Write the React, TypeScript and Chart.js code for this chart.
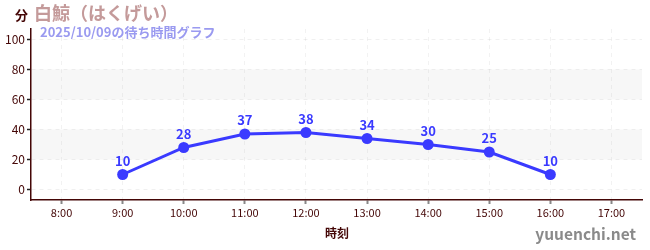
import React, { useEffect, useRef } from "react";
import { Chart, registerables } from "chart.js";

Chart.register(...registerables);

const categories = ["8:00", "9:00", "10:00", "11:00", "12:00", "13:00", "14:00", "15:00", "16:00", "17:00"];
const waitTimes: (number | null)[] = [null, 10, 28, 37, 38, 34, 30, 25, 10, null];
const bands: [number, number][] = [[20, 40], [60, 80]];
const titleUnit = "分";
const titleMain = "白鯨（はくげい）";
const subtitle = "2025/10/09の待ち時間グラフ";
const xTitle = "時刻";
const watermark = "yuuenchi.net";

const FONT = "'Noto Sans CJK JP', 'Noto Sans', sans-serif";
const MAROON = "#440606";
const BLUE = "#3a3aff";

export default function App() {
  const ref = useRef<HTMLCanvasElement | null>(null);
  useEffect(() => {
    if (!ref.current) return;
    const bandPlugin = {
      id: "bands",
      beforeDatasetsDraw(chart: any) {
        const { ctx, chartArea, scales } = chart;
        ctx.save();
        ctx.fillStyle = "rgba(0,0,0,0.03)";
        for (const [a, b] of bands) {
          const y1 = scales.y.getPixelForValue(b);
          const y2 = scales.y.getPixelForValue(a);
          ctx.fillRect(chartArea.left, y1, chartArea.right - chartArea.left, y2 - y1);
        }
        ctx.restore();
      },
    };
    const textPlugin = {
      id: "texts",
      afterDatasetsDraw(chart: any) {
        const { ctx } = chart;
        const meta = chart.getDatasetMeta(0);
        ctx.save();
        ctx.font = `bold 13px ${FONT}`;
        ctx.fillStyle = BLUE;
        ctx.textAlign = "center";
        ctx.textBaseline = "bottom";
        meta.data.forEach((pt: any, i: number) => {
          const v = waitTimes[i];
          if (v == null) return;
          ctx.fillText(String(v), pt.x, pt.y - 7);
        });
        ctx.restore();
      },
      afterDraw(chart: any) {
        const { ctx } = chart;
        ctx.save();
        ctx.textBaseline = "middle";
        ctx.textAlign = "left";
        ctx.font = `bold 13px ${FONT}`;
        ctx.fillStyle = MAROON;
        ctx.fillText(titleUnit, 15, 15);
        ctx.font = `bold 18px ${FONT}`;
        ctx.fillStyle = "#c49a9a";
        ctx.fillText(titleMain, 34, 13);
        ctx.font = `bold 13px ${FONT}`;
        ctx.fillStyle = "#9a9af0";
        ctx.fillText(subtitle, 40, 32);
        ctx.textAlign = "center";
        ctx.font = `bold 12px ${FONT}`;
        ctx.fillStyle = MAROON;
        ctx.fillText(xTitle, 337, 233);
        ctx.textAlign = "right";
        ctx.font = `bold 15.5px ${FONT}`;
        ctx.fillStyle = "#8a8a8a";
        ctx.fillText(watermark, 636, 234);
        ctx.restore();
      },
    };
    const chart = new Chart(ref.current, {
      type: "line",
      data: {
        labels: categories,
        datasets: [
          {
            data: waitTimes,
            borderColor: BLUE,
            backgroundColor: BLUE,
            borderWidth: 3,
            pointRadius: 5.5,
            pointHoverRadius: 5.5,
            pointBackgroundColor: BLUE,
            pointBorderWidth: 0,
            spanGaps: false,
          },
        ],
      },
      options: {
        animation: false,
        responsive: false,
        maintainAspectRatio: false,
        layout: { padding: { top: 29, right: 8, left: 0, bottom: 0 } },
        plugins: { legend: { display: false }, tooltip: { enabled: false } },
        scales: {
          x: {
            type: "category",
            offset: true,
            afterFit(scale: any) {
              scale.height = 50;
            },
            border: { color: MAROON, width: 1.5, dash: [4, 4] },
            grid: {
              color: "rgba(0,0,0,0.05)",
              lineWidth: 1,
              offset: false,
              drawTicks: true,
              tickLength: 4,
              tickColor: "#888888",
              tickWidth: 2,
              tickBorderDash: [],
            },
            ticks: {
              color: MAROON,
              font: { family: FONT, size: 11 },
              padding: 2,
              maxRotation: 0,
            },
          },
          y: {
            min: -7,
            max: 107,
            afterFit(scale: any) {
              scale.width = 31;
            },
            afterBuildTicks(scale: any) {
              const t = [];
              for (let v = 0; v <= 100; v += 10) t.push({ value: v });
              scale.ticks = t;
            },
            border: { color: MAROON, width: 1.5, dash: [4, 4] },
            grid: {
              color: (c: any) => (c.tick && c.tick.value % 20 === 0 ? "rgba(0,0,0,0.06)" : "transparent"),
              lineWidth: 1,
              drawTicks: true,
              tickLength: 4,
              tickColor: (c: any) => (c.tick && c.tick.value % 20 === 0 ? "#222" : "#e03030"),
              tickWidth: 1.5,
              tickBorderDash: [],
            },
            ticks: {
              color: MAROON,
              font: { family: FONT, size: 12 },
              padding: 2,
              callback: (v: any) => (Number(v) % 20 === 0 ? String(v) : ""),
            },
          },
        },
      } as any,
      plugins: [bandPlugin, textPlugin],
    });
    return () => chart.destroy();
  }, []);
  return (
    <div style={{ position: "fixed", left: 0, top: 0, width: 650, height: 250, background: "#fff" }}>
      <canvas ref={ref} width={650} height={250} style={{ width: 650, height: 250 }} />
    </div>
  );
}
